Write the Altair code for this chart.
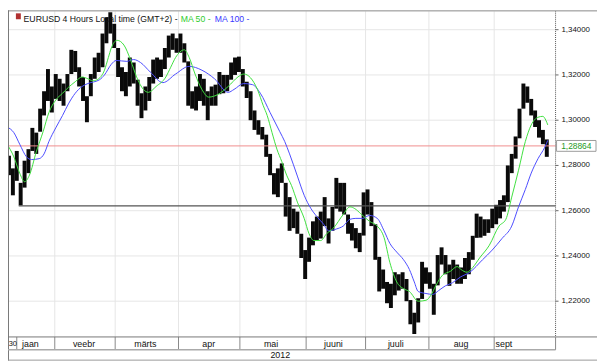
import altair as alt
import pandas as pd

# ---------------- data ----------------
# 4-hour bars, sampled every ~4 px of the original chart (bar index = position in time)
bar_high = [1.2843, 1.2787, 1.2864, 1.2723, 1.2821, 1.2872, 1.2966, 1.2945, 1.3051, 1.3128,
            1.3226, 1.3149, 1.3204, 1.3183, 1.3162, 1.3204, 1.3311, 1.3306, 1.3234, 1.3191,
            1.3106, 1.3204, 1.3277, 1.3298, 1.3383, 1.3455, 1.3477, 1.3426, 1.3319, 1.3234,
            1.3213, 1.3277, 1.3255, 1.3179, 1.3119, 1.3149, 1.3191, 1.3268, 1.3277, 1.3268,
            1.3319, 1.3374, 1.3383, 1.3362, 1.3383, 1.3340, 1.3260, 1.3128, 1.3149, 1.3204,
            1.3183, 1.3128, 1.3149, 1.3157, 1.3213, 1.3200, 1.3200, 1.3255, 1.3277, 1.3281,
            1.3226, 1.3170, 1.3128, 1.3043, 1.3000, 1.2970, 1.2936, 1.2851, 1.2766, 1.2787,
            1.2809, 1.2723, 1.2660, 1.2609, 1.2596, 1.2498, 1.2426, 1.2481, 1.2553, 1.2574,
            1.2596, 1.2660, 1.2566, 1.2617, 1.2745, 1.2723, 1.2723, 1.2583, 1.2545, 1.2523,
            1.2502, 1.2681, 1.2694, 1.2638, 1.2540, 1.2396, 1.2340, 1.2285, 1.2277, 1.2328,
            1.2319, 1.2328, 1.2298, 1.2205, 1.2149, 1.2213, 1.2374, 1.2349, 1.2328, 1.2277,
            1.2404, 1.2438, 1.2404, 1.2362, 1.2383, 1.2362, 1.2349, 1.2391, 1.2417, 1.2489,
            1.2587, 1.2574, 1.2562, 1.2562, 1.2609, 1.2626, 1.2647, 1.2668, 1.2800, 1.2851,
            1.2928, 1.3051, 1.3162, 1.3149, 1.3094, 1.3043, 1.3000, 1.2957, 1.2915]
bar_low = [1.2757, 1.2668, 1.2732, 1.2623, 1.2702, 1.2766, 1.2864, 1.2851, 1.2949, 1.3021,
           1.3085, 1.3034, 1.3094, 1.3085, 1.3064, 1.3128, 1.3204, 1.3213, 1.3149, 1.3085,
           1.2991, 1.3106, 1.3183, 1.3213, 1.3234, 1.3340, 1.3383, 1.3319, 1.3191, 1.3128,
           1.3106, 1.3149, 1.3162, 1.3064, 1.3009, 1.3043, 1.3085, 1.3162, 1.3183, 1.3191,
           1.3226, 1.3277, 1.3311, 1.3298, 1.3298, 1.3255, 1.3064, 1.3051, 1.3043, 1.3085,
           1.3064, 1.3000, 1.3064, 1.3064, 1.3115, 1.3119, 1.3128, 1.3179, 1.3200, 1.3213,
           1.3149, 1.3098, 1.3000, 1.2957, 1.2936, 1.2915, 1.2838, 1.2757, 1.2672, 1.2660,
           1.2723, 1.2574, 1.2511, 1.2523, 1.2498, 1.2391, 1.2298, 1.2374, 1.2447, 1.2468,
           1.2477, 1.2532, 1.2455, 1.2511, 1.2609, 1.2596, 1.2583, 1.2498, 1.2468, 1.2434,
           1.2417, 1.2490, 1.2583, 1.2532, 1.2383, 1.2243, 1.2255, 1.2191, 1.2170, 1.2226,
           1.2247, 1.2255, 1.2200, 1.2098, 1.2055, 1.2106, 1.2210, 1.2277, 1.2255, 1.2140,
           1.2270, 1.2362, 1.2319, 1.2268, 1.2298, 1.2277, 1.2277, 1.2298, 1.2319, 1.2383,
           1.2480, 1.2481, 1.2489, 1.2502, 1.2523, 1.2540, 1.2566, 1.2596, 1.2638, 1.2766,
           1.2830, 1.2920, 1.3051, 1.3077, 1.3021, 1.2970, 1.2923, 1.2894, 1.2838]

# MA 50 (green) read at bar positions
ma50_pos = [-0.5, 1.25, 2.75, 4, 5.25, 7, 8.75, 10.25, 12, 13.75,
            15.25, 17, 18.75, 20.25, 21.5, 23, 24.5, 25.5, 26.25, 27.75,
            29.5, 31.25, 32.75, 34.5, 35.75, 37.75, 40.25, 41.5, 42.75, 45,
            46.25, 47.75, 49.5, 51.25, 53.75, 56.25, 58.75, 60.25, 62, 63.75,
            65.25, 66.25, 67.5, 68.75, 70, 71.25, 72.5, 74, 75.75, 77,
            78.25, 80, 81.5, 83.25, 85.75, 87.5, 88.75, 90.25, 92.5, 94.5,
            96.25, 97.75, 99.5, 101.25, 102.75, 105, 107, 108.25, 109.5, 111.25,
            113.25, 115, 116, 117.5, 119, 120.75, 123.25, 125.75, 127.5, 129,
            130.75, 132.5, 134, 135.75, 137, 137.75, 138.25]
ma50_val = [1.2894, 1.2838, 1.2766, 1.2728, 1.2757, 1.2860, 1.2949, 1.3034, 1.3089, 1.3119,
            1.3145, 1.3170, 1.3191, 1.3183, 1.3174, 1.3183, 1.3221, 1.3277, 1.3319, 1.3353,
            1.3332, 1.3264, 1.3191, 1.3136, 1.3123, 1.3149, 1.3191, 1.3234, 1.3277, 1.3311,
            1.3277, 1.3204, 1.3136, 1.3102, 1.3115, 1.3149, 1.3191, 1.3204, 1.3187, 1.3136,
            1.3064, 1.3021, 1.2945, 1.2872, 1.2817, 1.2757, 1.2711, 1.2638, 1.2566, 1.2498,
            1.2468, 1.2468, 1.2498, 1.2523, 1.2583, 1.2617, 1.2609, 1.2587, 1.2553, 1.2532,
            1.2481, 1.2370, 1.2285, 1.2255, 1.2243, 1.2200, 1.2204, 1.2226, 1.2268, 1.2315,
            1.2332, 1.2353, 1.2340, 1.2328, 1.2349, 1.2391, 1.2447, 1.2532, 1.2562, 1.2660,
            1.2779, 1.2906, 1.2979, 1.3013, 1.3017, 1.3000, 1.2979]

# MA 100 (blue)
ma100_pos = [-0.5, 1.25, 2.75, 4.5, 5.75, 7.75, 9, 10.25, 12, 13.75,
             15.25, 17, 18.75, 20.25, 23.25, 24.5, 26.25, 27.5, 30.25, 32,
             33.75, 36.25, 39.5, 42.75, 46.25, 49.5, 52.75, 56.25, 57.75, 60.25,
             62.5, 64.5, 67, 69.5, 70.75, 72, 74, 75.75, 77.5, 79,
             80.75, 82, 84, 85.75, 87.5, 89, 90.75, 92.5, 94.5, 96.25,
             97.75, 99.5, 101.25, 102.75, 104, 105, 107, 108.75, 110.25, 112,
             113.75, 115.75, 118.25, 121.5, 124, 126.5, 129, 130.75, 132.5, 134,
             135.75, 137.5, 138.25]
ma100_val = [1.2970, 1.2945, 1.2894, 1.2838, 1.2826, 1.2830, 1.2851, 1.2906, 1.2966, 1.3021,
             1.3072, 1.3119, 1.3149, 1.3162, 1.3179, 1.3200, 1.3247, 1.3264, 1.3260, 1.3268,
             1.3255, 1.3213, 1.3166, 1.3204, 1.3238, 1.3221, 1.3183, 1.3123, 1.3136, 1.3162,
             1.3157, 1.3119, 1.3034, 1.2949, 1.2906, 1.2851, 1.2753, 1.2668, 1.2609, 1.2574,
             1.2540, 1.2511, 1.2519, 1.2532, 1.2562, 1.2566, 1.2566, 1.2579, 1.2566, 1.2511,
             1.2455, 1.2417, 1.2383, 1.2340, 1.2285, 1.2243, 1.2234, 1.2230, 1.2247, 1.2268,
             1.2281, 1.2306, 1.2328, 1.2383, 1.2426, 1.2477, 1.2532, 1.2617, 1.2694, 1.2766,
             1.2830, 1.2881, 1.2911]

month_names = ["jaan", "veebr", "märts", "apr", "mai", "juuni", "juuli", "aug", "sept"]
month_label_pos = [5.5, 19.25, 35, 51.25, 67.25, 83.25, 99.25, 116, 127]
month_bounds = [2, 11.75, 27.25, 43.5, 59.25, 76.25, 91.5, 107.75, 124.5]
y_ticks = [1.22, 1.24, 1.26, 1.28, 1.30, 1.32, 1.34]
last_price = 1.28864
support_level = 1.2621
support_start = 2.5
year_label = "2012"
prev_label = "30"

# ---------------- chart ----------------
W, H = 555, 330
FONT = "Liberation Sans"
xs = alt.Scale(domain=[-0.25, 140.25], nice=False, zero=False)
ys = alt.Scale(domain=[1.2042, 1.3481], nice=False, zero=False)

bars_df = pd.DataFrame({"i": list(range(len(bar_high))), "high": bar_high, "low": bar_low})
ma50_df = pd.DataFrame({"i": ma50_pos, "v": ma50_val})
ma100_df = pd.DataFrame({"i": ma100_pos, "v": ma100_val})
bounds_df = pd.DataFrame({"b": month_bounds})
grid_df = pd.DataFrame({"b": month_bounds[1:]})
labels_df = pd.DataFrame({"m": month_names, "c": month_label_pos})
price_df = pd.DataFrame({"p": [last_price], "t": [f"{last_price:.5f}".replace(".", ",")]})
sup_df = pd.DataFrame({"s": [support_start], "lvl": [support_level]})
yt_df = pd.DataFrame({"v": y_ticks, "lab": [f"{v:.5f}".replace(".", ",") for v in y_ticks]})
one = pd.DataFrame({"a": [0]})

X = lambda f: alt.X(f, scale=xs, axis=None)
Y = lambda f: alt.Y(f, scale=ys, axis=None)

# grid
hgrid = alt.Chart(yt_df).mark_rule(color="#e6e6e6", strokeWidth=1).encode(y=Y("v:Q"))
vgrid = alt.Chart(grid_df).mark_rule(color="#e6e6e6", strokeWidth=1).encode(x=X("b:Q"))

bars = alt.Chart(bars_df).mark_rule(color="#0a0a0a", strokeWidth=4).encode(
    x=X("i:Q"), y=Y("low:Q"), y2="high:Q")

red_line = alt.Chart(price_df).mark_rule(color="#f08c8c", strokeWidth=1).encode(y=Y("p:Q"))
sup_line = alt.Chart(sup_df).mark_rule(color="#555", strokeWidth=1.3).encode(
    x=X("s:Q"), x2=alt.value(W), y=Y("lvl:Q"))

ma50 = alt.Chart(ma50_df).mark_line(color="#3ee03e", strokeWidth=1, interpolate="monotone").encode(
    x=X("i:Q"), y=Y("v:Q"))
ma100 = alt.Chart(ma100_df).mark_line(color="#4b4bff", strokeWidth=1, interpolate="monotone").encode(
    x=X("i:Q"), y=Y("v:Q"))

# right price axis (drawn by hand)
ydomain = alt.Chart(one).mark_rule(color="#555", strokeWidth=1, strokeDash=[1, 1]).encode(
    x=alt.value(W), y=alt.value(0), y2=alt.value(H))
yticks = alt.Chart(yt_df).mark_rule(color="#666", strokeWidth=1).encode(
    x=alt.value(W), x2=alt.value(W + 3), y=Y("v:Q"))
ylabels = alt.Chart(yt_df).mark_text(font=FONT, fontSize=8, color="#111", align="left",
                                     baseline="middle").encode(
    x=alt.value(W + 6), y=Y("v:Q"), text="lab:N")

# price tag on the right
tag_box = alt.Chart(price_df).mark_point(
    shape="M-1,-0.275L1,-0.275L1,0.275L-1,0.275Z", size=1600, filled=True,
    fill="white", stroke="#9a9a9a", strokeWidth=1, opacity=1).encode(
    x=alt.value(576), y=Y("p:Q"))
tag_text = alt.Chart(price_df).mark_text(font=FONT, fontSize=8.5, color="#1e9a1e",
                                         align="center", baseline="middle").encode(
    x=alt.value(576), y=Y("p:Q"), text="t:N")

# title / legend line
icon = alt.Chart(one).mark_rect(color="#b03030").encode(
    x=alt.value(8), x2=alt.value(13), y=alt.value(2), y2=alt.value(8))
def ttext(txt, x, color):
    return alt.Chart(one).mark_text(font=FONT, fontSize=8.8, color=color, align="left",
                                    baseline="middle", text=txt).encode(
        x=alt.value(x), y=alt.value(7.8))
t1 = ttext("EURUSD 4 Hours Local time (GMT+2)", 15.8, "#111")
t2 = ttext("-", 169, "#111")
t3 = ttext("MA 50 -", 175, "#2ecc2e")
t4 = ttext("MA 100 -", 209.5, "#3a3aff")

# month band
seps = alt.Chart(bounds_df).mark_rule(color="#888", strokeWidth=1).encode(
    x=X("b:Q"), y=alt.value(H), y2=alt.value(H + 13))
mlabels = alt.Chart(labels_df).mark_text(font=FONT, fontSize=9, color="#111",
                                         baseline="middle").encode(
    x=X("c:Q"), y=alt.value(H + 7), text="m:N")
prevlab = alt.Chart(one).mark_text(font=FONT, fontSize=7.5, color="#111", align="center",
                                   baseline="middle", text=prev_label).encode(
    x=alt.value(4.8), y=alt.value(H + 7))
year = alt.Chart(one).mark_text(font=FONT, fontSize=9, color="#111", baseline="middle",
                                text=year_label).encode(x=alt.value(276), y=alt.value(H + 18))

def hline(y, x1, x2, color="#888", w=1):
    return alt.Chart(one).mark_rule(color=color, strokeWidth=w).encode(
        x=alt.value(x1), x2=alt.value(x2), y=alt.value(y))

def vline(x, y1, y2, color="#888", w=1):
    return alt.Chart(one).mark_rule(color=color, strokeWidth=w).encode(
        x=alt.value(x), y=alt.value(y1), y2=alt.value(y2))

frame = [
    hline(-0.5, 0, 597, "#888"),
    vline(0.5, -1, H + 24, "#777"),
    hline(H, 0, 597, "#777"),
    hline(H + 13, 0, W, "#aaa", 1.6),
    hline(H + 23.5, 0, 597, "#999"),
    vline(W, H, H + 13, "#888"),
]

chart = alt.layer(
    hgrid, vgrid, bars, red_line, sup_line, ma100, ma50, ydomain, yticks, ylabels,
    tag_box, tag_text, icon, t1, t2, t3, t4, seps, mlabels, prevlab, year, *frame
).properties(
    width=W, height=H,
    autosize=alt.AutoSizeParams(type="none"),
    padding={"left": 0, "top": 1, "right": 42, "bottom": 24},
    background="white"
).configure_view(stroke=None)

chart.save("out.html", embed_options={"renderer": "svg", "actions": False})
